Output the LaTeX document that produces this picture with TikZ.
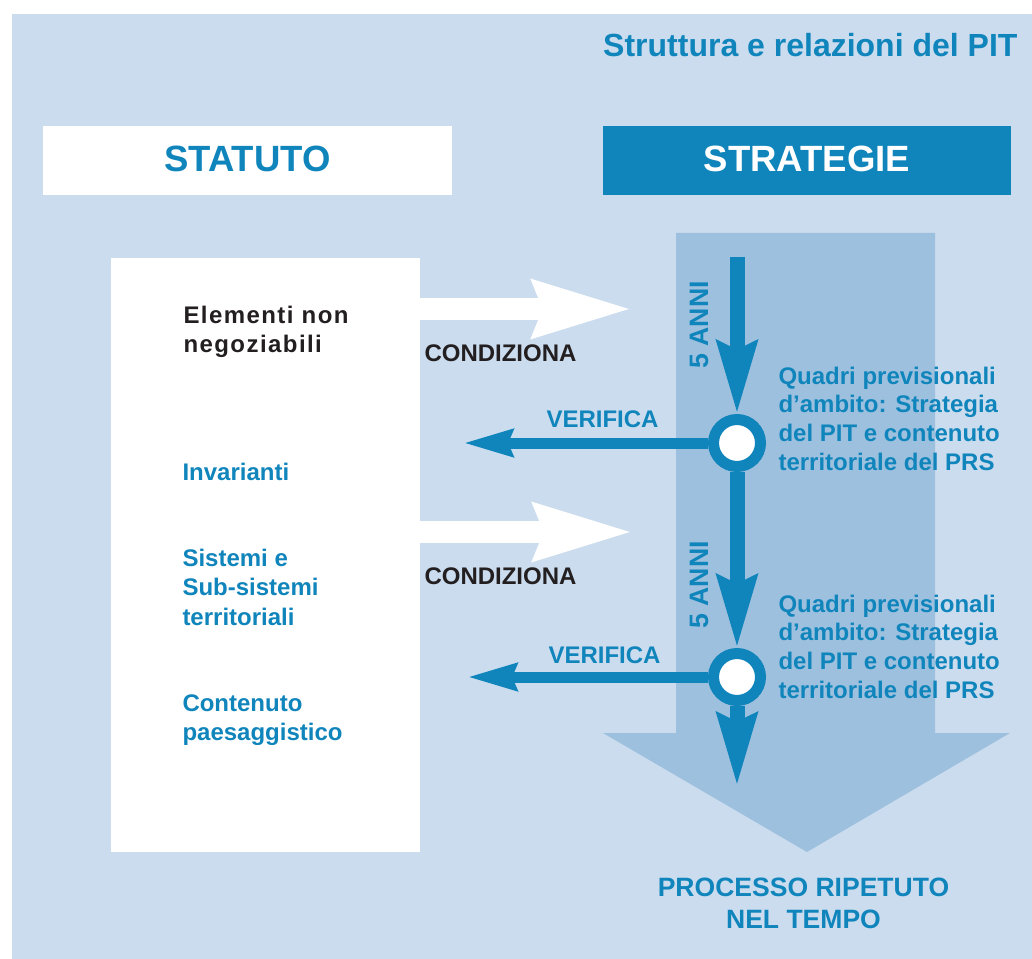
\documentclass[tikz,border=0pt]{standalone}
\usepackage{fontspec}
\setmainfont{Liberation Sans}
\usetikzlibrary{arrows.meta}

\definecolor{pitbg}{RGB}{203,220,238}
\definecolor{pitcol}{RGB}{157,192,222}
\definecolor{pitblue}{RGB}{16,133,188}
\definecolor{pitink}{RGB}{35,31,32}

\tikzset{every picture/.style={line width=0.75pt}}

\begin{document}
\begin{tikzpicture}[x=0.75pt,y=0.75pt,yscale=-1,xscale=1,
  lbl/.style={anchor=base west, inner sep=0pt, align=left, font=\bfseries\fontsize{18}{21.75}\selectfont},
  headbox/.style={inner sep=0pt, outer sep=0pt, minimum width=306.5pt, minimum height=51.75pt, text height=19.5pt, text depth=3.6pt, font=\bfseries\fontsize{27.4}{32}\selectfont},
  ring/.style={circle, draw=pitblue, fill=white, line width=8.25pt, minimum size=35.25pt, inner sep=0pt},
  flow/.style={draw=pitblue, line width=11.25pt, -{Stealth[length=54pt,width=29.25pt,inset=6pt]}},
  verif/.style={draw=pitblue, line width=8.25pt, -{Stealth[length=36.75pt,width=19.5pt,inset=3pt]}},
  condarrow/.style={draw=white, line width=16.5pt, -{Stealth[length=73.5pt,width=40.5pt,inset=6pt]}}]
\useasboundingbox (0,0) rectangle (1032,959);
\fill[white] (0,0) rectangle (1032,959);
\fill[pitbg] (12,14) rectangle (1032,959);

%Shape: big arrow behind the strategie column
\fill[pitcol] (676,233) -- (935,233) -- (935,733) -- (1010,733) -- (807,852) -- (603,733) -- (676,733) -- cycle;

% Title
\node[anchor=base east, inner sep=0pt, text=pitblue, font=\bfseries\fontsize{24}{28}\selectfont] (title) at (1018,57) {Struttura e relazioni del PIT};

% Header boxes
\node[headbox, fill=white, text=pitblue] (statuto) at (247.5,160.5) {STATUTO};
\node[headbox, fill=pitblue, text=white] (strategie) at (807,160.5) {STRATEGIE};

% Statuto column
\node[fill=white, inner sep=0pt, outer sep=0pt, minimum width=231.75pt, minimum height=445.5pt, anchor=north west] (statcol) at (111,258) {};

%White arrows
\coordinate (cond1) at (420,309);
\coordinate (cond1tip) at (633,309);
\coordinate (cond2) at (420,532);
\coordinate (cond2tip) at (634,532);
\draw[condarrow] (cond1) -- (cond1tip);
\draw[condarrow] (cond2) -- (cond2tip);

% Circles
\node[ring] (circ1) at (737,443) {};
\node[ring] (circ2) at (737,677) {};

%Blue arrows
\coordinate (top1) at (737,257);
\coordinate (end3) at (737,786);
\coordinate (ver1) at (463,443);
\coordinate (ver2) at (467,677);
\draw[flow] (top1) -- (circ1.north);
\draw[flow] (circ1.south) -- (circ2.north);
\draw[flow] (circ2.south) -- (end3);
\draw[verif] (circ1.west) -- (ver1);
\draw[verif] (circ2.west) -- (ver2);

% Text Node (multi-line nodes sit on their last line)
\node[lbl, text=pitink, font=\bfseries\fontsize{18}{21.75}\selectfont\addfontfeature{LetterSpace=6}] (elem) at (183,353) {Elementi non\\negoziabili};
\node[lbl, text=pitblue] (invar) at (182,480) {Invarianti};
\node[lbl, text=pitblue, font=\bfseries\fontsize{18}{22.1}\selectfont] (sist) at (182,625) {Sistemi e\\Sub-sistemi\\territoriali};
\node[lbl, text=pitblue] (cont) at (182,740) {Contenuto\\paesaggistico};
% Text Node
\node[lbl, text=pitink] (cond1lbl) at (424,362) {CONDIZIONA};
\node[lbl, text=pitink] (cond2lbl) at (424,584) {CONDIZIONA};
\node[lbl, text=pitblue] (ver1lbl) at (546,427) {VERIFICA};
\node[lbl, text=pitblue] (ver2lbl) at (548,663) {VERIFICA};
% Text Node
\node[inner sep=0pt, rotate=90, text=pitblue, font=\bfseries\fontsize{20}{24}\selectfont] (anni1) at (699,325) {5 ANNI};
\node[inner sep=0pt, rotate=90, text=pitblue, font=\bfseries\fontsize{20}{24}\selectfont] (anni2) at (699,585) {5 ANNI};
% Text Node
\node[lbl, text=pitblue, font=\bfseries\fontsize{18}{21.5}\selectfont] (quad1) at (778,470) {Quadri previsionali\\d’ambito: Strategia\\del PIT e contenuto\\territoriale del PRS};
\node[lbl, text=pitblue, font=\bfseries\fontsize{18}{21.5}\selectfont] (quad2) at (778,698) {Quadri previsionali\\d’ambito: Strategia\\del PIT e contenuto\\territoriale del PRS};
% Text Node
\node[anchor=base, inner sep=0pt, align=center, text=pitblue, font=\bfseries\fontsize{19.9}{24}\selectfont] (proc) at (803.5,928) {PROCESSO RIPETUTO\\NEL TEMPO};

\end{tikzpicture}
\end{document}
